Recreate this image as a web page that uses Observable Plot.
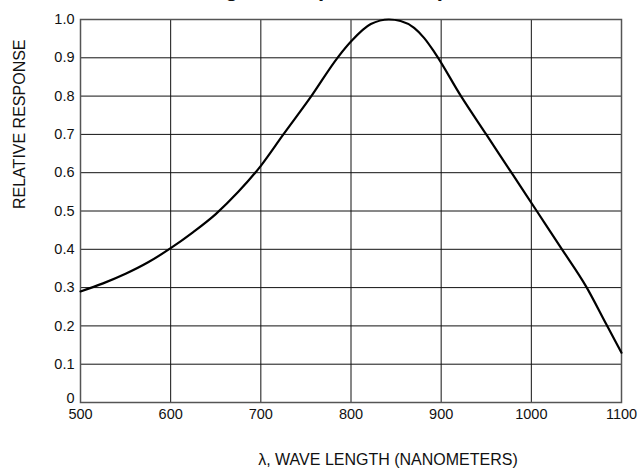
<!DOCTYPE html>
<html>
<head>
<meta charset="utf-8">
<script src="https://cdn.jsdelivr.net/npm/d3@7"></script>
<script src="https://cdn.jsdelivr.net/npm/@observablehq/plot@0.6"></script>
<style>
  html, body { margin: 0; padding: 0; background: #fff; }
</style>
</head>
<body>
<div id="chart"></div>
<script>
// Data (wavelength in nm, relative response)
const wavelength = [500, 525, 550, 575, 600, 625, 650, 675, 700, 725, 756, 785, 801, 822, 842, 855, 870, 881, 893, 922, 950, 978, 1006, 1034, 1061, 1083, 1100];
const response   = [0.29, 0.311, 0.336, 0.366, 0.403, 0.445, 0.492, 0.55, 0.618, 0.7, 0.8, 0.9, 0.945, 0.988, 1.0, 0.996, 0.978, 0.952, 0.913, 0.8, 0.7, 0.6, 0.5, 0.4, 0.302, 0.205, 0.13];
const xTicks = [500, 600, 700, 800, 900, 1000, 1100];
const yTicks = [0, 0.1, 0.2, 0.3, 0.4, 0.5, 0.6, 0.7, 0.8, 0.9, 1.0];
const titleText = "Figure 2. Spectral Response";
const xLabel = "λ, WAVE LENGTH (NANOMETERS)";
const yLabel = "RELATIVE RESPONSE";

const data = wavelength.map((w, i) => ({w, r: response[i]}));
const font = "'Liberation Sans', Arial, sans-serif";
const yFmt = d => d === 0 ? "0" : d.toFixed(1);

const chart = Plot.plot({
  width: 638,
  height: 470,
  marginLeft: 80,
  marginRight: 17,
  marginTop: 19,
  marginBottom: 68,
  x: {domain: [500, 1100]},
  y: {domain: [0, 1]},
  style: {fontFamily: font, fontSize: "14.5px", color: "#111", background: "#fff"},
  marks: [
    Plot.gridX(xTicks.slice(1, -1), {stroke: "#111", strokeOpacity: 1, strokeWidth: 1}),
    Plot.gridY(yTicks.slice(1, -1), {stroke: "#111", strokeOpacity: 1, strokeWidth: 1}),
    Plot.frame({stroke: "#555", strokeWidth: 1.5}),
    Plot.line(data, {x: "w", y: "r", curve: "monotone-x", stroke: "#000", strokeWidth: 2.2}),
    Plot.axisX(xTicks, {tickSize: 0, tickPadding: 6, tickFormat: d => String(d), label: null}),
    Plot.axisY(yTicks.slice(1), {tickSize: 0, tickPadding: 6, tickFormat: yFmt, label: null}),
    Plot.axisY(yTicks.slice(0, 1), {tickSize: 0, tickPadding: 6, tickFormat: yFmt, label: null, dy: -4}),
    Plot.text([yLabel], {frameAnchor: "left", dx: -61, rotate: -90, fontSize: 16, lineAnchor: "middle", dy: -2}),
    Plot.text([xLabel], {frameAnchor: "bottom", dy: 57, dx: 37, lineAnchor: "middle", fontSize: 16}),
    Plot.text([titleText], {frameAnchor: "top", dy: -24, dx: 2.5, lineAnchor: "bottom", fontWeight: "bold", fontSize: 22})
  ]
});
document.getElementById("chart").appendChild(chart);
</script>
</body>
</html>
